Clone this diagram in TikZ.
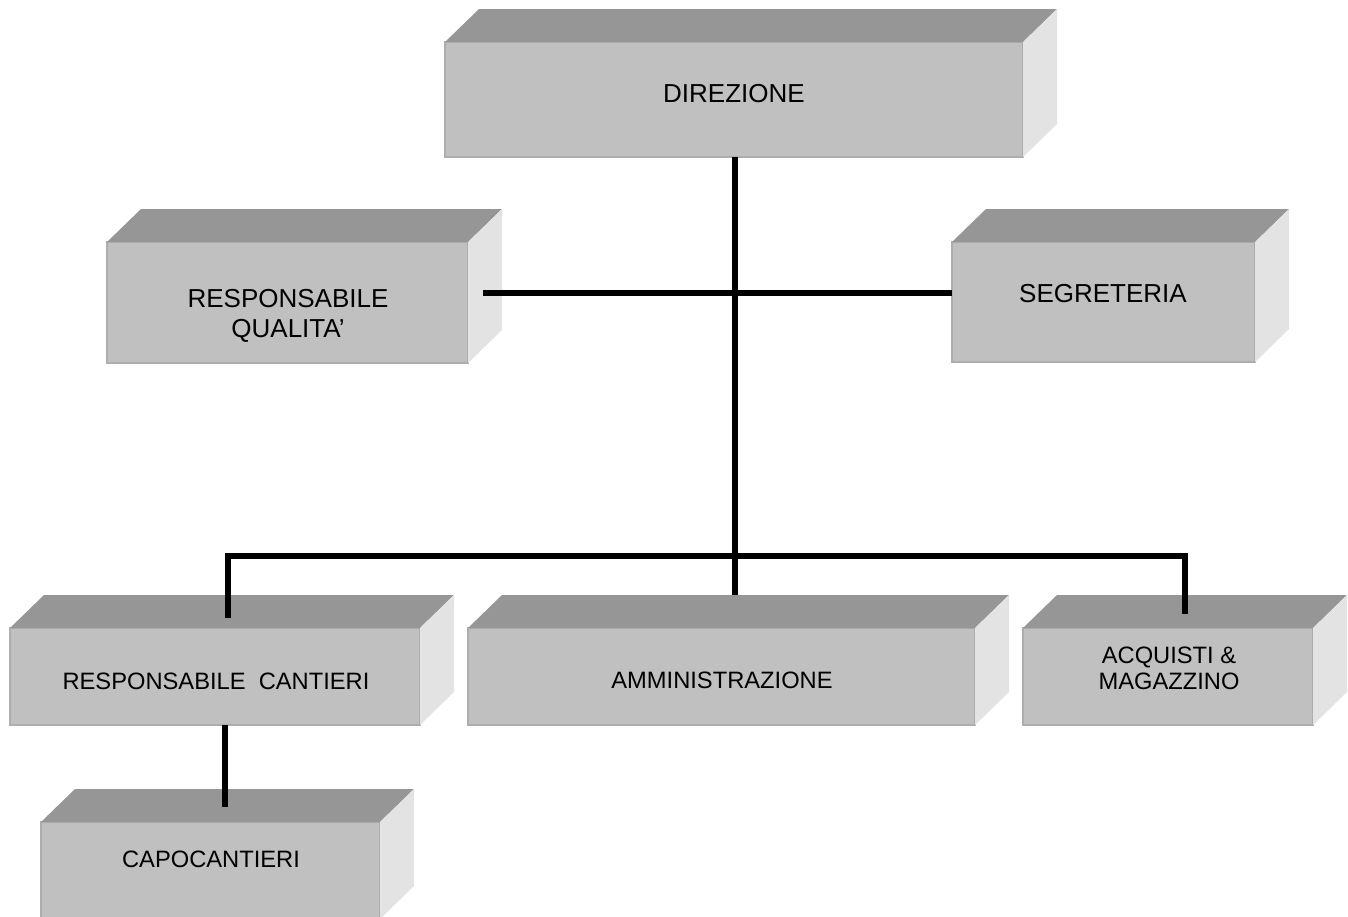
\documentclass[tikz,border=0pt]{standalone}
\usepackage{fontspec}
\setmainfont{Liberation Sans}
\definecolor{topc}{HTML}{969696}
\definecolor{frontc}{HTML}{C0C0C0}
\definecolor{sidec}{HTML}{E3E3E3}
\definecolor{edgec}{HTML}{ADADAD}
% #1 name, #2 x, #3 y (north west of front face), #4 width, #5 height
\newcommand\cubebox[5]{%
  \node[frontface, minimum width=#4pt, minimum height=#5pt, anchor=north west] (#1) at (#2,#3) {};
  \fill[topc] (#1.north west) -- ++(34,-33) -- ([xshift=34pt,yshift=33pt]#1.north east) -- (#1.north east) -- cycle;
  \fill[sidec] (#1.north east) -- ++(34,-33) -- ([xshift=34pt,yshift=33pt]#1.south east) -- (#1.south east) -- cycle;
}
\begin{document}
\begin{tikzpicture}[x=1pt,y=-1pt,
  frontface/.style={rectangle, fill=frontc, draw=edgec, line width=1.2pt, inner sep=0pt, outer sep=0pt},
  big/.style={font=\fontsize{26}{29.5}\selectfont, inner sep=0pt, align=center},
  small/.style={font=\fontsize{23.7}{26}\selectfont, inner sep=0pt, align=center},
  conn/.style={line width=5.5pt, black}]
\useasboundingbox (0,0) rectangle (1348,916);
\clip (0,0) rectangle (1348,916);
\fill[white] (0,0) rectangle (1348,916);

\cubebox{dir}{445}{42}{578}{115}
\cubebox{rq}{107}{242}{361}{121}
\cubebox{seg}{952}{242}{303}{120}
\cubebox{rc}{10}{628}{410}{97}
\cubebox{amm}{468}{628}{507}{97}
\cubebox{acq}{1023}{628}{290}{97}
\cubebox{capo}{41}{822}{339}{97}

\node[big, anchor=base] (dirt) at (734,102) {DIREZIONE};
\node[big, anchor=center] (rqt) at (288,316) {RESPONSABILE\\QUALITA’};
\node[big, anchor=base] (segt) at (1103,302) {SEGRETERIA};
\node[small, anchor=base] (rct) at (216,689) {RESPONSABILE\ \ CANTIERI};
\node[small, anchor=base] (ammt) at (722,688) {AMMINISTRAZIONE};
\node[small, anchor=center] (acqt) at (1169,668) {ACQUISTI \&\\MAGAZZINO};
\node[small, anchor=base] (capot) at (211,867) {CAPOCANTIERI};

\coordinate (trunkend) at (735,595);
\coordinate (hl) at (483,293);
\coordinate (bl) at (228,556);
\coordinate (br) at (1185,556);
\coordinate (rcin) at (228,618);
\coordinate (acqin) at (1185,614);
\coordinate (capoin) at (225,807);

\draw[conn] (dir.south -| trunkend) -- (trunkend);
\draw[conn] (hl) -- (hl -| seg.west);
\draw[conn] (rcin) -- (bl) -- (br) -- (acqin);
\draw[conn] (rc.south -| capoin) -- (capoin);
\end{tikzpicture}
\end{document}
